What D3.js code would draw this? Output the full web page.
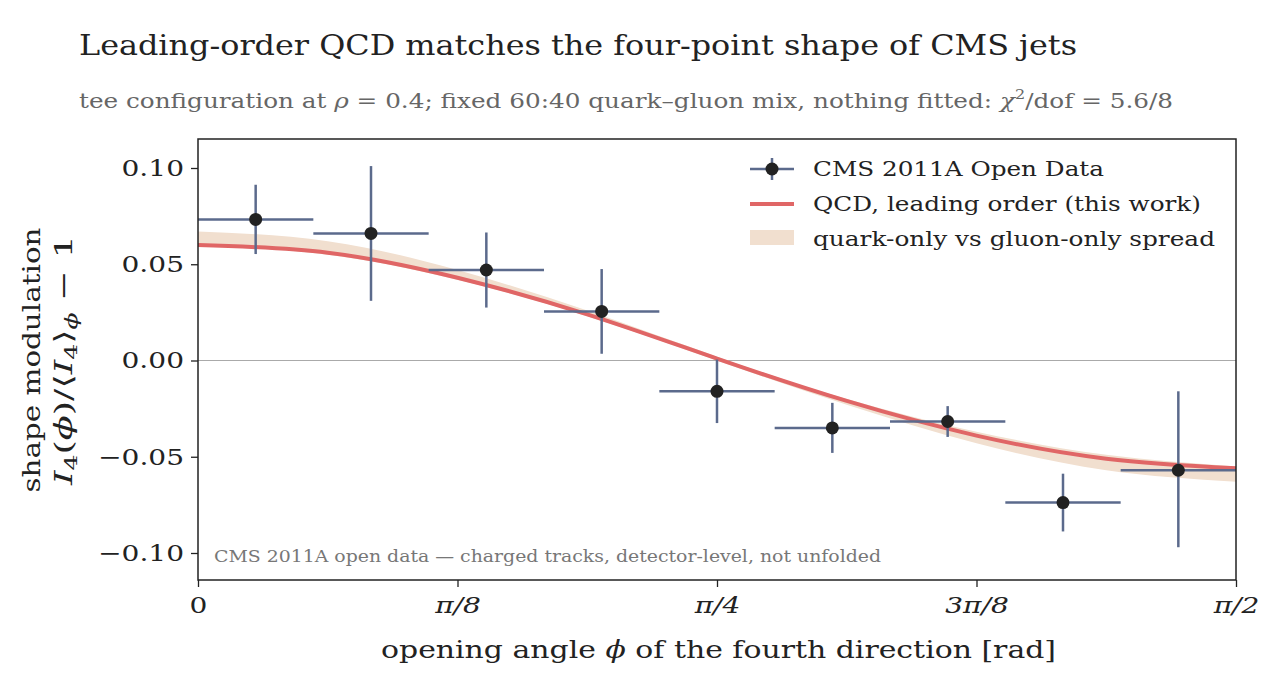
<!DOCTYPE html>
<html><head><meta charset="utf-8">
<script src="https://cdn.jsdelivr.net/npm/d3@7"></script>
<style>body{margin:0;background:#fff}text{font-family:"DejaVu Serif","Liberation Serif",serif}</style>
</head><body><svg id="c" width="1274" height="686"></svg>
<script>
// ===== data =====
var binCenters = [1,3,5,7,9,11,13,15,17];            // in units of pi/36
var binHalf = 1;                                     // half width, units of pi/36
var cmsValues = [0.0733,0.066,0.047,0.0255,-0.016,-0.035,-0.0317,-0.0738,-0.057];
var cmsErrUp  = [0.018,0.035,0.0195,0.022,0.0165,0.013,0.008,0.015,0.041];
var cmsErrDn  = [0.018,0.035,0.0195,0.022,0.0165,0.013,0.008,0.015,0.040];
var curveX    = [0,1,2,3,4,5,6,7,8];                 // units of pi/16
var qcdValues = [0.060,0.056,0.043,0.024,0.001,-0.021,-0.039,-0.051,-0.056];
var bandHi    = [0.067,0.062,0.047,0.026,0.002,-0.020,-0.037,-0.049,-0.055];
var bandLo    = [0.060,0.055,0.042,0.023,0.000,-0.023,-0.043,-0.057,-0.063];
var xTicks    = [0,1,2,3,4];                          // units of pi/8
var xTickLabels = ["0","\u03c0/8","\u03c0/4","3\u03c0/8","\u03c0/2"];
var yTicks    = [0.10,0.05,0.00,-0.05,-0.10];

var svg = d3.select("#c");
var L = 198, R = 1236, T = 139, B = 580;
var x = d3.scaleLinear().domain([0, Math.PI/2]).range([L, R]);
var y = d3.scaleLinear().domain([-0.10, 0.10]).range([553, 168]);

// widen text to the reference's font metrics
function stretch(sel, w) {
  sel.each(function() {
    var len = typeof w === "number" ? w : this.getComputedTextLength() * 1.22;
    d3.select(this).attr("textLength", len).attr("lengthAdjust", "spacingAndGlyphs");
  });
}

// titles
svg.append("text").attr("x", 79).attr("y", 55).attr("font-size", 28).attr("fill", "#222")
   .text("Leading-order QCD matches the four-point shape of CMS jets").call(stretch, 998);
var st = svg.append("text").attr("x", 79).attr("y", 108).attr("font-size", 20).attr("fill", "#666");
st.append("tspan").text("tee configuration at ");
st.append("tspan").attr("font-style", "italic").text("\u03c1");
st.append("tspan").text(" = 0.4; fixed 60:40 quark\u2013gluon mix, nothing fitted:   ");
st.append("tspan").attr("font-style", "italic").text("\u03c7");
st.append("tspan").attr("font-size", 13).attr("dy", -9).text("2");
st.append("tspan").attr("dy", 9).text("/dof = 5.6/8");
st.call(stretch, 1094);

// zero line
svg.append("line").attr("x1", L).attr("x2", R).attr("y1", y(0)).attr("y2", y(0))
   .attr("stroke", "#aaa").attr("stroke-width", 1.2);

// band
var area = d3.area()
  .x(function(d, i) { return x(curveX[i]*Math.PI/16); })
  .y0(function(d, i) { return y(bandLo[i]); })
  .y1(function(d, i) { return y(bandHi[i]); })
  .curve(d3.curveNatural);
svg.append("path").attr("d", area(curveX)).attr("fill", "#f1dfcf");

// qcd line
var line = d3.line()
  .x(function(d, i) { return x(curveX[i]*Math.PI/16); })
  .y(function(d) { return y(d); })
  .curve(d3.curveNatural);
svg.append("path").attr("d", line(qcdValues)).attr("fill", "none")
   .attr("stroke", "#e06666").attr("stroke-width", 4);

// data points with error bars
var pts = svg.selectAll("g.pt").data(cmsValues).enter().append("g").attr("class", "pt");
var eb = "#5b6a8c";
pts.append("line")
   .attr("x1", function(d, i) { return x((binCenters[i]-binHalf)*Math.PI/36); })
   .attr("x2", function(d, i) { return x((binCenters[i]+binHalf)*Math.PI/36); })
   .attr("y1", function(d) { return y(d); }).attr("y2", function(d) { return y(d); })
   .attr("stroke", eb).attr("stroke-width", 2.5);
pts.append("line")
   .attr("x1", function(d, i) { return x(binCenters[i]*Math.PI/36); })
   .attr("x2", function(d, i) { return x(binCenters[i]*Math.PI/36); })
   .attr("y1", function(d, i) { return y(d + cmsErrUp[i]); })
   .attr("y2", function(d, i) { return y(d - cmsErrDn[i]); })
   .attr("stroke", eb).attr("stroke-width", 2.5);
pts.append("circle")
   .attr("cx", function(d, i) { return x(binCenters[i]*Math.PI/36); })
   .attr("cy", function(d) { return y(d); })
   .attr("r", 6.5).attr("fill", "#222");

// frame
svg.append("rect").attr("x", L).attr("y", T).attr("width", R-L).attr("height", B-T)
   .attr("fill", "none").attr("stroke", "#222").attr("stroke-width", 1.5);

// axes
var xa = svg.append("g").attr("transform", "translate(0," + B + ")")
  .call(d3.axisBottom(x).tickValues(xTicks.map(function(t) { return t*Math.PI/8; }))
        .tickFormat(function(d, i) { return xTickLabels[i]; }).tickSize(7).tickSizeOuter(0));
xa.select(".domain").remove();
xa.selectAll("text").attr("font-size", 23).attr("fill", "#222").attr("dy", "1.0em")
  .attr("font-style", function(d, i) { return i ? "italic" : null; })
  .style("font-family", "DejaVu Serif, Liberation Serif, serif").call(stretch);
xa.selectAll("line").attr("stroke", "#222").attr("stroke-width", 1.3);

var ya = svg.append("g").attr("transform", "translate(" + L + ",0)")
  .call(d3.axisLeft(y).tickValues(yTicks).tickSize(7).tickSizeOuter(0)
        .tickFormat(function(d) { return d3.format(".2f")(d).replace("-", "\u2212"); }));
ya.select(".domain").remove();
ya.selectAll("text").attr("font-size", 23).attr("fill", "#222").attr("x", -14)
  .style("font-family", "DejaVu Serif, Liberation Serif, serif").call(stretch);
ya.selectAll("line").attr("stroke", "#222").attr("stroke-width", 1.3);

// axis labels
var xl = svg.append("text").attr("x", 381).attr("y", 658)
  .attr("font-size", 25).attr("fill", "#222");
xl.append("tspan").text("opening angle ");
xl.append("tspan").attr("font-style", "italic").text("\u03d5");
xl.append("tspan").text(" of the fourth direction   [rad]");
xl.call(stretch, 675);

svg.append("text").attr("transform", "translate(40,360) rotate(-90)").attr("text-anchor", "middle")
  .attr("font-size", 25).attr("fill", "#222").text("shape modulation").call(stretch, 265);
var yl = svg.append("text").attr("transform", "translate(72,360) rotate(-90)").attr("text-anchor", "middle")
  .attr("font-size", 25).attr("fill", "#222");
yl.append("tspan").attr("font-style", "italic").text("I");
yl.append("tspan").attr("font-size", 17).attr("dy", 5).text("4");
yl.append("tspan").attr("dy", -5).text("(");
yl.append("tspan").attr("font-style", "italic").text("\u03d5");
yl.append("tspan").text(")/\u27e8");
yl.append("tspan").attr("font-style", "italic").text("I");
yl.append("tspan").attr("font-size", 17).attr("dy", 5).text("4");
yl.append("tspan").attr("dy", -5).text("\u27e9");
yl.append("tspan").attr("font-size", 17).attr("font-style", "italic").attr("dy", 5).text("\u03d5");
yl.append("tspan").attr("dy", -5).text(" \u2212 1");
yl.call(stretch, 250);

// footnote
svg.append("text").attr("x", 214).attr("y", 562).attr("font-size", 16).attr("fill", "#777")
  .text("CMS 2011A open data \u2014 charged tracks, detector-level, not unfolded").call(stretch, 667);

// legend
var lg = svg.append("g");
lg.append("line").attr("x1", 750).attr("x2", 794).attr("y1", 169).attr("y2", 169).attr("stroke", eb).attr("stroke-width", 2.5);
lg.append("line").attr("x1", 772).attr("x2", 772).attr("y1", 158).attr("y2", 180).attr("stroke", eb).attr("stroke-width", 2.5);
lg.append("circle").attr("cx", 772).attr("cy", 169).attr("r", 6.5).attr("fill", "#222");
lg.append("line").attr("x1", 750).attr("x2", 794).attr("y1", 204).attr("y2", 204).attr("stroke", "#e06666").attr("stroke-width", 4);
lg.append("rect").attr("x", 750).attr("y", 230).attr("width", 44).attr("height", 15).attr("fill", "#f1dfcf");
var legTexts = ["CMS 2011A Open Data", "QCD, leading order (this work)", "quark-only vs gluon-only spread"];
var legWidths = [291, 388, 402];
lg.selectAll("text.lt").data(legTexts).enter().append("text").attr("class", "lt")
  .attr("x", 813).attr("y", function(d, i) { return 176 + i*35; })
  .attr("font-size", 21).attr("fill", "#222").text(function(d) { return d; })
  .attr("textLength", function(d, i) { return legWidths[i]; }).attr("lengthAdjust", "spacingAndGlyphs");
</script></body></html>
